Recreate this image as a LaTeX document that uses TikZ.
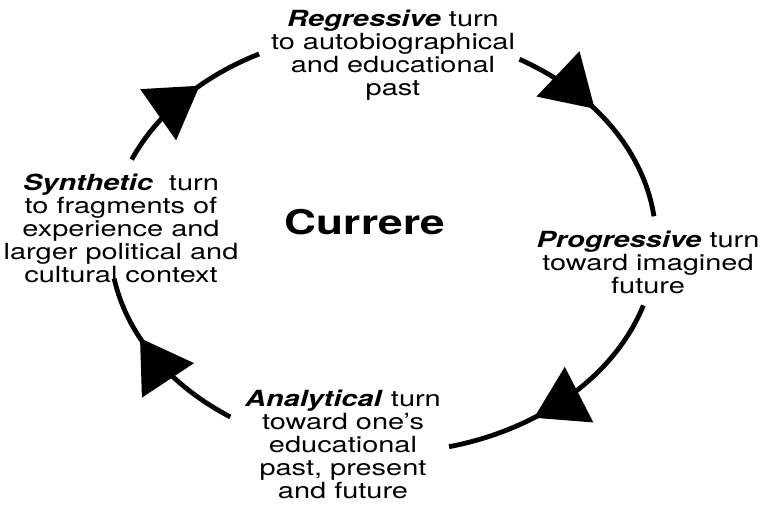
\documentclass[tikz,border=0pt]{standalone}
\usepackage{fontspec}
\setmainfont{TeX Gyre Heros}
\usetikzlibrary{arrows.meta,decorations.markings}
\newcommand{\bi}[1]{\textbf{\textit{#1}}}

\begin{document}
\begin{tikzpicture}[x=0.75pt,y=0.75pt]
\tikzstyle{turntext}=[align=center, inner sep=0pt, xscale=1.3, font=\fontsize{16.7}{17.25}\selectfont]
\tikzstyle{titletext}=[inner sep=0pt, xscale=1.3, font=\fontsize{25.5}{30}\selectfont\bfseries]
\tikzstyle{loopline}=[line width=3.6pt]
\tikzset{midhead/.style={postaction={decorate}, decoration={markings,
    mark=at position #1 with {\arrow{Triangle[length=38pt,width=46pt]}}}}}
\useasboundingbox (0,0) rectangle (767,510);
	\node[titletext] (currere) at (365,288) {Currere};
	\node[turntext] (regressive) at (393,455) {\bi{Regressive} turn\\to autobiographical\\and educational\\past};
	\node[turntext] (progressive) at (648,248) {\bi{Progressive} turn\\toward imagined\\future};
	\node[turntext] (analytical) at (343,66) {\bi{Analytical} turn\\toward one’s\\educational\\past, present\\and future};
	\node[turntext] (synthetic) at (121,282) {\bi{Synthetic}\ \ turn\\to fragments of\\experience and\\larger political and\\cultural context};

	\coordinate (c) at (383,268);
	\path (c) ++(157:273 and 211) coordinate (syn_out);
	\path (c) ++(60:273 and 211) coordinate (reg_out);
	\path (c) ++(-17.5:273 and 211) coordinate (pro_out);
	\path (c) ++(236:273 and 211) coordinate (ana_out);

	\draw[loopline, midhead=0.60] (syn_out) arc[start angle=157, end angle=117, x radius=273, y radius=211];
	\draw[loopline, midhead=0.42] (reg_out) arc[start angle=60, end angle=7, x radius=273, y radius=211];
	\draw[loopline, midhead=0.64] (pro_out) arc[start angle=-17.5, end angle=-76, x radius=273, y radius=211];
	\draw[loopline, midhead=0.65] (ana_out) arc[start angle=236, end angle=190, x radius=273, y radius=211];
\end{tikzpicture}
\end{document}
